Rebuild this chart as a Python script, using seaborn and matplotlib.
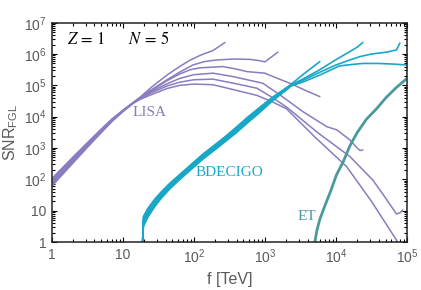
import numpy as np
import pandas as pd
import seaborn as sns
import matplotlib.pyplot as plt
from matplotlib.ticker import LogLocator, NullFormatter

# LISA curves (f in TeV, SNR)
lisa1_f = [1, 2, 4, 7, 10, 14, 17.5, 25, 42, 63, 88, 126, 186, 274]
lisa1_snr = [105, 520, 2490, 8360, 16000, 28300, 41700, 85100, 214000, 398000, 631000, 933000, 1290000, 2340000]

lisa2_f = [1, 2, 4, 7, 10, 14, 17.5, 25, 42, 63, 97, 141, 211, 355, 615, 832, 1000, 1524]
lisa2_snr = [94, 476, 2340, 8040, 15600, 28000, 40700, 70800, 151000, 263000, 447000, 575000, 646000, 692000, 676000, 617000, 562000, 1150000]

lisa3_f = [1, 2, 4, 7, 10, 14, 17.5, 25, 42, 63, 89, 122, 256, 398, 558, 1000, 1514, 2250, 3550, 5940]
lisa3_snr = [84, 436, 2200, 7730, 15300, 27700, 39800, 67600, 141000, 229000, 316000, 363000, 398000, 331000, 275000, 245000, 166000, 117000, 72400, 43600]

lisa4_f = [1, 2, 4, 7, 10, 14, 17.5, 25, 42, 63, 100, 186, 355, 933, 1622, 3430, 7450, 10300, 15700, 19950, 21900, 24000]
lisa4_snr = [75, 399, 2070, 7450, 15000, 27400, 38000, 63100, 112000, 166000, 219000, 245000, 191000, 117000, 50100, 14500, 4790, 3800, 1820, 1000, 832, 871]

lisa5_f = [1, 2, 4, 7, 10, 14, 17.5, 25, 42, 63, 100, 186, 398, 771, 1259, 2040, 5620, 15700, 33000, 50100, 71100, 79400, 87100]
lisa5_snr = [67, 365, 1950, 7160, 14700, 27100, 37200, 57500, 95500, 126000, 151000, 158000, 112000, 81300, 41700, 20000, 3020, 537, 95.5, 25.1, 7.85, 8.5, 10.5]

lisa6_f = [1, 2, 4, 7, 10, 14, 17.5, 25, 42, 63, 100, 186, 398, 771, 1259, 2020, 5010, 14100, 31600, 71100, 75900]
lisa6_snr = [60, 334, 1840, 6890, 14300, 26800, 35500, 50100, 79400, 100000, 110000, 105000, 69200, 47900, 30200, 17800, 2290, 257, 20, 1.15, 0.79]

# B-DECIGO curves
bdec_f = [19.05, 19.5, 22.4, 28.2, 35.5, 45.7, 63.1, 89.1, 135, 200, 282, 398, 562, 851, 1259, 1778, 2239]
bdec1_snr = [1, 6.46, 11.5, 23.4, 41.7, 74.1, 141, 282, 646, 1290, 2400, 4680, 9330, 20000, 40700, 69200, 100000]
bdec2_snr = [1, 5.57, 10.1, 21.0, 38.0, 68.2, 131, 262, 600, 1200, 2230, 4310, 8590, 18500, 38500, 66700, 97200]
bdec3_snr = [1, 4.81, 8.87, 18.8, 34.7, 62.8, 122, 243, 557, 1110, 2070, 3960, 7910, 17200, 36500, 64300, 94600]
bdec4_snr = [1, 4.15, 7.80, 16.8, 31.6, 57.8, 113, 226, 518, 1030, 1920, 3650, 7280, 16000, 34500, 61900, 92000]
bdec5_snr = [1, 3.58, 6.85, 15.1, 28.8, 53.2, 105, 210, 481, 959, 1790, 3360, 6700, 14900, 32700, 59700, 89500]
bdec6_snr = [1, 3.09, 6.03, 13.5, 26.3, 49.0, 97.7, 195, 447, 891, 1660, 3090, 6170, 13800, 30900, 57500, 87100]

# high-frequency tails of B-DECIGO curves 1-4
bdec1_tail_f = [3548, 5943]
bdec1_tail_snr = [234000, 575000]
bdec2_tail_f = [3548, 5943, 10000, 15700, 19950, 23900]
bdec2_tail_snr = [166000, 316000, 661000, 1200000, 1660000, 2340000]
bdec3_tail_f = [3548, 5943, 10000, 15700, 21900, 31600, 51300, 71100, 79400]
bdec3_tail_snr = [151000, 263000, 447000, 646000, 832000, 1000000, 1150000, 1350000, 2240000]
bdec4_tail_f = [3548, 5943, 11200, 15700, 23900, 39800, 63100, 100000]
bdec4_tail_snr = [132000, 214000, 417000, 457000, 501000, 501000, 479000, 447000]

# ET
et_f = [5010, 5370, 5890, 6920, 8510, 10200, 12600, 15800, 20000, 26900, 37200, 51300, 70800, 100000]
et_snr = [0.89, 2.24, 5.01, 13.5, 44.7, 141, 355, 1200, 3160, 8320, 17800, 41700, 85100, 166000]

c_lisa = "#8a7cbe"
c_bdec = "#19a7c8"
c_et = "#4b9a9b"
grey = "#5a5a5a"

def long_df(curves):
    parts = []
    for i, (f, s) in enumerate(curves):
        parts.append(pd.DataFrame({"f": f, "snr": s, "curve": i}))
    return pd.concat(parts, ignore_index=True)

df_lisa = long_df([(lisa1_f, lisa1_snr), (lisa2_f, lisa2_snr), (lisa3_f, lisa3_snr),
                   (lisa4_f, lisa4_snr), (lisa5_f, lisa5_snr), (lisa6_f, lisa6_snr)])
bdec_curves = []
for s, (tf, ts) in zip([bdec1_snr, bdec2_snr, bdec3_snr, bdec4_snr],
                       [(bdec1_tail_f, bdec1_tail_snr), (bdec2_tail_f, bdec2_tail_snr),
                        (bdec3_tail_f, bdec3_tail_snr), (bdec4_tail_f, bdec4_tail_snr)]):
    bdec_curves.append((bdec_f + tf, s + ts))
bdec_curves.append((bdec_f, bdec5_snr))
bdec_curves.append((bdec_f, bdec6_snr))
df_bdec = long_df(bdec_curves)
df_et = long_df([(et_f, et_snr)])

sns.set_style("ticks")
plt.rcParams["font.family"] = ["Liberation Sans", "DejaVu Sans"]
plt.rcParams["mathtext.fontset"] = "custom"
plt.rcParams["mathtext.rm"] = "Liberation Sans"
plt.rcParams["mathtext.it"] = "Liberation Sans:italic"
plt.rcParams["mathtext.bf"] = "Liberation Sans:bold"

fig = plt.figure(figsize=(4.21, 2.90), dpi=100)
ax = fig.add_axes([0.1228, 0.1655, 0.8439, 0.7562])
ax.set_xscale("log")
ax.set_yscale("log")

sns.lineplot(data=df_lisa, x="f", y="snr", units="curve", estimator=None, sort=False,
             color=c_lisa, lw=1.1, ax=ax)
sns.lineplot(data=df_bdec, x="f", y="snr", units="curve", estimator=None, sort=False,
             color=c_bdec, lw=1.2, ax=ax)
sns.lineplot(data=df_et, x="f", y="snr", units="curve", estimator=None, sort=False,
             color=c_et, lw=2.0, ax=ax)

ax.set_xlim(1, 1e5)
ax.set_ylim(1, 1e7)

ax.set_xticks([1, 10, 1e2, 1e3, 1e4, 1e5])
ax.set_xticklabels(["1", "10", "$10^{2}$", "$10^{3}$", "$10^{4}$", "$10^{5}$"])
ax.set_yticks([1, 10, 1e2, 1e3, 1e4, 1e5, 1e6, 1e7])
ax.set_yticklabels(["1", "10", "$10^{2}$", "$10^{3}$", "$10^{4}$", "$10^{5}$", "$10^{6}$", "$10^{7}$"])
for axis in (ax.xaxis, ax.yaxis):
    axis.set_minor_locator(LogLocator(base=10, subs=np.arange(2, 10), numticks=20))
    axis.set_minor_formatter(NullFormatter())

ax.tick_params(which="both", direction="in", top=True, right=True, colors="black",
               labelcolor=grey, labelsize=10, width=0.8)
ax.tick_params(which="major", length=3.8, pad=4)
ax.tick_params(which="minor", length=2.0)
for sp in ax.spines.values():
    sp.set_linewidth(1.1)
    sp.set_color("#222222")

ax.set_xlabel("f [TeV]", fontsize=11.5, color=grey)
ax.set_ylabel(r"SNR$_{\rm FGL}$", fontsize=11.5, color=grey)
ax.xaxis.set_label_coords(0.5, -0.135)
ax.yaxis.set_label_coords(-0.09, 0.5)

ax.text(0.042, 0.929, r"$Z\,=\,1\qquad N\,=\,5$", transform=ax.transAxes, fontsize=12,
        va="center", ha="left", color="black", math_fontfamily="stix")
ax.text(24.2, 13200, "LISA", color=c_lisa, fontsize=11, family="Liberation Serif",
        ha="center", va="center")
ax.text(312, 169, "BDECIGO", color=c_bdec, fontsize=11, family="Liberation Serif",
        ha="center", va="center")
ax.text(3860, 6.4, "ET", color=c_et, fontsize=11, family="Liberation Serif",
        ha="center", va="center")

fig.savefig("out.png", dpi=100)
